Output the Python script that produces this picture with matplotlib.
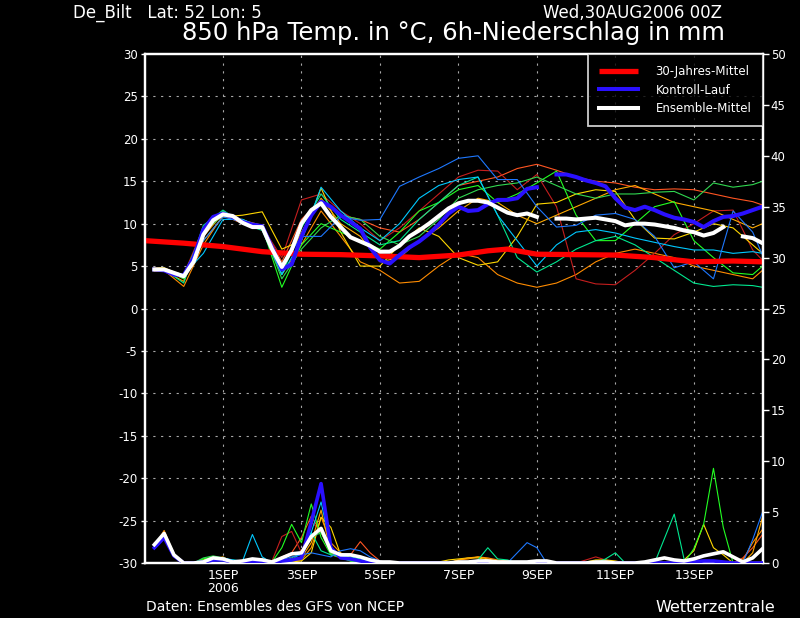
import numpy as np
import matplotlib
matplotlib.use('Agg')
import matplotlib.pyplot as plt

plt.rcParams['axes.unicode_minus'] = False
plt.rcParams['font.family'] = ['DejaVu Sans']

nan = np.nan
# forecast hours (6-hourly) for mean / control run
hours6 = list(range(6, 379, 6))
# forecast hours for the individual members (read at 12-hourly resolution)
hours_m = [6] + list(range(12, 373, 12)) + [378]
# climatology
clim_hours = [0, 24, 48, 72, 96, 120, 144, 168, 192, 210, 222, 240, 264, 288, 312, 336, 360, 378]
clim_temp = [8.0, 7.7, 7.3, 6.7, 6.4, 6.35, 6.2, 6.0, 6.3, 6.8, 7.0, 6.4, 6.35, 6.3, 6.0, 5.5, 5.6, 5.5]

mean_temp = [4.6, 4.6, 4.2, 3.8, 5.5, 8.7, 10.4, 11.1, 10.9, 10.1, 9.6, 9.6,
             7.0, 4.9, 6.9, 10.0, 11.6, 12.4, 10.8, 9.6, 8.4, 7.9, 7.4, 6.7,
             6.7, 7.4, 8.5, 9.2, 10.0, 10.9, 11.8, 12.4, 12.7, 12.7, 12.5, 11.9,
             11.3, 11.0, 11.2, 10.8, nan, 10.6, 10.6, 10.5, 10.6, 10.7, 10.5, 10.3,
             9.8, 10.0, 10.0, 9.9, 9.7, 9.5, 9.2, 9.0, 8.6, 8.9, 9.6, nan,
             8.5, 8.3, 7.7]
ctrl_temp = [4.6, 4.5, 4.0, 3.9, 6.0, 9.3, 10.8, 11.2, 10.8, 10.2, 9.9, 9.7,
             7.2, 4.6, 5.2, 8.5, 11.0, 12.6, 12.0, 11.0, 10.2, 9.4, 7.2, 5.7,
             5.3, 6.3, 7.2, 7.9, 8.8, 9.9, 11.2, 12.0, 11.5, 11.6, 12.3, 12.8,
             12.8, 13.0, 14.1, 14.3, nan, 15.8, 15.8, 15.5, 15.1, 14.8, 14.4, 13.0,
             11.9, 11.6, 12.0, 11.6, 11.1, 10.7, 10.5, 10.2, 9.6, 10.3, 10.8, 10.9,
             11.2, 11.6, 12.0]
mean_prcp = [1.8, 2.9, 0.8, 0, 0, 0.1, 0.5, 0.4, 0.1, 0.2, 0.4, 0.3,
             0.1, 0.5, 0.9, 1.0, 2.6, 3.4, 1.2, 0.8, 0.8, 0.6, 0.3, 0.1,
             0.1, 0, 0, 0, 0, 0, 0, 0.1, 0.1, 0.2, 0.2, 0.1,
             0.1, 0.1, 0.1, 0.2, 0.2, 0, 0, 0, 0, 0.1, 0.1, 0,
             0, 0, 0.1, 0.3, 0.5, 0.3, 0.2, 0.4, 0.7, 0.9, 1.1, 0.6,
             0.1, 0.5, 1.4]
ctrl_prcp = [1.5, 2.5, 0.7, 0, 0, 0.1, 0.3, 0.3, 0.1, 0, 0.1, 0.1,
             0, 0.2, 0.3, 0.5, 4.0, 7.8, 1.5, 0.5, 0.4, 0.2, 0, 0,
             0, 0, 0, 0, 0, 0, 0, 0, 0, 0, 0, 0,
             0, 0, 0, 0, 0, 0, 0, 0, 0, 0, 0, 0,
             0, 0, 0, 0, 0, 0, 0, 0.1, 0.2, 0.2, 0.1, 0,
             0, 0, 0]

member_colors = ['#ff8c00', '#ff5522', '#c41e1e', '#ffd700', '#ffaa00',
                 '#22ff22', '#30d850', '#00e890', '#00c8ff', '#1e78ff']

t_orange = [4.5, 4.5, 2.6, 7.5, 11.0, 10.0, 9.3, 4.0, 7.5, 11.5, 8.5, 5.5, 4.5, 3.0, 3.2, 5.0, 6.5,
            6.0, 4.0, 3.0, 2.5, 3.0, 4.0, 5.5, 6.5, 7.0, 6.5, 6.0, 5.0, 4.5, 4.0, 3.5, 4.5]
t_orangered = [4.6, 4.6, 3.5, 9.0, 11.3, 10.0, 9.8, 5.5, 10.5, 12.8, 11.0, 10.5, 9.5, 9.0, 10.5, 12.5, 14.5,
               15.0, 15.5, 16.5, 17.0, 16.3, 15.5, 15.0, 14.8, 14.3, 14.0, 14.1, 14.0, 13.5, 13.0, 12.6, 12.2]
t_firebrick = [4.5, 4.5, 4.0, 9.5, 11.0, 10.3, 9.6, 6.0, 12.8, 13.5, 11.5, 10.0, 8.0, 9.5, 11.5, 13.5, 15.5,
               16.3, 16.2, 14.0, 15.8, 12.0, 3.5, 2.9, 2.8, 4.5, 6.5, 8.7, 10.0, 11.5, 11.6, 6.9, 5.7]
t_gold = [4.8, 4.8, 3.8, 8.0, 10.8, 11.0, 11.4, 7.0, 8.0, 14.2, 9.0, 5.0, 5.0, 7.5, 9.5, 8.5, 6.0,
          5.1, 5.5, 8.5, 12.3, 12.5, 13.5, 14.0, 13.8, 10.5, 8.3, 8.2, 9.0, 10.0, 9.5, 7.5, 6.5]
t_amber = [4.4, 4.4, 3.2, 8.5, 11.2, 10.4, 9.8, 4.5, 9.0, 13.0, 10.0, 8.5, 5.5, 6.0, 8.0, 9.5, 11.5,
           13.0, 12.5, 11.0, 10.0, 11.0, 12.0, 13.0, 14.0, 14.5, 13.5, 12.5, 12.0, 11.5, 10.5, 9.5, 10.0]
t_lime = [4.7, 4.7, 3.5, 9.5, 11.5, 10.2, 9.6, 2.5, 7.5, 10.0, 9.0, 8.0, 7.0, 9.0, 11.5, 12.5, 14.0,
          14.5, 12.5, 13.5, 14.8, 16.2, 11.0, 8.0, 8.0, 10.0, 12.0, 12.6, 8.0, 6.0, 4.2, 4.0, 5.0]
t_green = [4.5, 4.5, 4.0, 9.0, 11.0, 10.5, 9.5, 3.5, 7.0, 9.5, 11.0, 10.5, 8.5, 7.5, 8.5, 10.5, 13.0,
           14.0, 14.5, 14.8, 15.5, 14.5, 13.5, 13.0, 13.5, 13.5, 13.7, 13.8, 12.8, 14.8, 14.3, 14.6, 15.0]
t_spring = [4.6, 4.6, 3.0, 9.8, 11.6, 10.0, 9.2, 4.0, 9.5, 13.5, 10.5, 9.0, 7.5, 8.0, 10.5, 12.5, 14.5,
            15.5, 11.0, 6.0, 4.3, 5.5, 7.0, 8.0, 8.5, 7.5, 6.0, 4.5, 3.0, 2.6, 2.8, 2.7, 2.5]
t_cyan = [4.5, 4.5, 4.0, 6.5, 10.5, 10.5, 9.5, 4.0, 8.0, 14.3, 11.5, 9.5, 8.0, 10.0, 13.0, 14.5, 15.2,
          15.5, 11.0, 8.0, 5.0, 7.5, 9.0, 9.3, 8.9, 8.3, 7.8, 7.3, 6.9, 6.9, 6.5, 6.7, 6.5]
t_dodger = [4.5, 4.5, 3.8, 8.0, 10.8, 10.2, 9.8, 5.0, 8.5, 8.5, 10.8, 10.4, 10.5, 14.4, 15.5, 16.5, 17.7,
            18.0, 15.2, 15.2, 12.0, 9.6, 9.8, 11.0, 11.2, 10.5, 8.5, 4.8, 5.5, 3.5, 11.5, 9.0, 6.3]

p_orange = [1.6, 3.2, 0.9, 0, 0, 0.2, 0.5, 0.3, 0, 0.1, 0.3, 0.2,
            0, 0, 0.2, 0.3, 1.5, 4.5, 2.0, 1.0, 0.5, 0.3, 0.1, 0,
            0, 0, 0, 0, 0, 0, 0, 0.3, 0.4, 0.6, 0.5, 0.3,
            0.2, 0, 0, 0, 0, 0, 0, 0, 0, 0, 0, 0,
            0, 0, 0, 0, 0, 0, 0, 0, 0, 0, 0, 0,
            0.3, 2.0, 3.3]
p_orangered = [1.8, 2.6, 0.8, 0, 0, 0, 0.3, 0.5, 0.2, 0, 0.2, 0.3,
               0, 0.6, 1.0, 2.5, 4.6, 3.0, 1.0, 0.8, 0.8, 2.1, 1.0, 0.2,
               0, 0, 0, 0, 0, 0, 0, 0, 0, 0, 0, 0,
               0, 0, 0, 0, 0, 0, 0, 0, 0, 0, 0, 0,
               0, 0, 0, 0, 0, 0, 0, 0, 0, 0, 0, 0,
               0.5, 1.5, 2.8]
p_firebrick = [2.0, 2.5, 0.6, 0, 0, 0, 0.2, 0.4, 0, 0, 0, 0.3,
               0.2, 2.6, 3.1, 1.0, 4.0, 3.2, 0.8, 0.5, 0.3, 0.2, 0, 0,
               0, 0, 0, 0, 0, 0, 0, 0, 0, 0, 0, 0,
               0, 0, 0, 0, 0, 0, 0, 0, 0.3, 0.6, 0.3, 0,
               0, 0, 0, 0, 0, 0, 0, 0, 0, 0, 0, 0,
               0, 0, 0]
p_gold = [1.7, 3.0, 0.9, 0, 0, 0.3, 0.6, 0.3, 0, 0.1, 0.2, 0.4,
          0.1, 0, 0.1, 0.2, 1.0, 4.5, 3.5, 0.8, 0.3, 0.1, 0, 0,
          0, 0, 0, 0, 0, 0.1, 0.3, 0.4, 0.5, 0.5, 0.3, 0.1,
          0, 0, 0, 0, 0, 0, 0, 0, 0.1, 0.3, 0.3, 0.2,
          0, 0, 0, 0, 0, 0, 0.3, 1.2, 3.8, 1.5, 0.8, 0,
          0, 0, 0]
p_amber = [1.5, 2.8, 0.7, 0, 0, 0.1, 0.4, 0.6, 0.1, 0, 0.1, 0.2,
           0, 0.2, 0.3, 0.5, 2.0, 5.2, 1.0, 0.5, 0.4, 0.3, 0.2, 0.1,
           0, 0, 0, 0, 0, 0, 0, 0.3, 0.5, 0.6, 0.4, 0.2,
           0, 0, 0, 0, 0, 0, 0, 0, 0, 0, 0, 0,
           0, 0, 0, 0, 0, 0, 0, 0, 0, 0, 0, 0,
           0, 1.0, 4.5]
p_lime = [1.7, 2.7, 0.8, 0, 0, 0.4, 0.6, 0.4, 0, 0, 0.3, 0.2,
          0.1, 1.5, 3.8, 2.0, 5.8, 2.5, 0.8, 0.6, 0.2, 0, 0, 0,
          0, 0, 0, 0, 0, 0, 0, 0, 0, 0, 0, 0,
          0, 0, 0, 0, 0, 0, 0, 0, 0, 0, 0, 0,
          0, 0, 0, 0, 0, 0, 0, 1.4, 3.8, 9.3, 3.5, 0,
          0, 0, 0]
p_green = [1.9, 2.9, 0.8, 0, 0, 0.5, 0.7, 0.5, 0, 0, 0.2, 0.2,
           0, 0, 0.5, 1.0, 2.5, 3.0, 1.0, 0.5, 0.2, 0, 0, 0,
           0, 0, 0, 0, 0, 0, 0, 0, 0, 0, 0, 0,
           0, 0, 0, 0, 0, 0, 0, 0, 0, 0, 0, 0,
           0, 0, 0, 0, 0, 0, 0, 0, 0, 0, 0, 0,
           0, 0, 0]
p_spring = [1.6, 2.9, 0.8, 0, 0, 0.2, 0.3, 0.2, 0.3, 0.1, 0, 0,
            0, 0, 0.3, 1.0, 3.0, 1.2, 0.8, 0.6, 0.6, 0.4, 0.2, 0,
            0, 0, 0, 0, 0, 0, 0, 0, 0, 0.3, 1.5, 0.4,
            0.3, 0, 0, 0, 0, 0, 0, 0, 0, 0, 0.4, 1.0,
            0, 0, 0, 0, 2.4, 4.8, 0.4, 0, 0, 0, 0, 0,
            0, 0, 0]
p_cyan = [1.4, 2.4, 0.7, 0, 0, 0.1, 0.4, 0.5, 0.3, 0.2, 2.8, 0.6,
          0, 0, 0.2, 0.5, 3.0, 6.0, 1.5, 0.7, 0.5, 0.3, 0.2, 0,
          0, 0, 0, 0, 0, 0, 0, 0, 0, 0, 0, 0,
          0, 0, 0, 0, 0, 0, 0, 0, 0, 0, 0, 0,
          0, 0, 0, 0, 0, 0, 0, 0, 0, 0, 0, 0,
          0, 0, 0]
p_dodger = [1.5, 2.6, 0.9, 0, 0, 0, 0.2, 0.3, 0, 0, 0, 0,
            0, 0.3, 0.6, 0.8, 1.0, 0.8, 0.6, 1.2, 1.4, 1.2, 0.6, 0.2,
            0, 0, 0, 0, 0, 0, 0, 0, 0, 0, 0, 0,
            0, 1.0, 2.0, 1.5, 0, 0, 0, 0, 0, 0, 0, 0,
            0, 0, 0, 0, 0, 0, 0, 0, 0, 0, 0, 0,
            0, 2.3, 5.0]

members_temp = [t_orange, t_orangered, t_firebrick, t_gold, t_amber,
                t_lime, t_green, t_spring, t_cyan, t_dodger]
members_prcp = [p_orange, p_orangered, p_firebrick, p_gold, p_amber,
                p_lime, p_green, p_spring, p_cyan, p_dodger]

xtick_hours = [48, 96, 144, 192, 240, 288, 336]
xtick_labels = ['1SEP\n2006', '3SEP', '5SEP', '7SEP', '9SEP', '11SEP', '13SEP']
legend_labels = ['30-Jahres-Mittel', 'Kontroll-Lauf', 'Ensemble-Mittel']

W, H = 800, 618
fig = plt.figure(figsize=(W / 100, H / 100), dpi=100, facecolor='black')
L, R, T, B = 144.5, 762.5, 54, 563
ax = fig.add_axes([L / W, 1 - B / H, (R - L) / W, (B - T) / H])
ax.set_facecolor('black')
ax2 = ax.twinx()

ax.set_xlim(0, 378)
ax.set_ylim(-30, 30)
ax2.set_ylim(0, 50)

# temperature members
for vals, c in zip(members_temp, member_colors):
    ax.plot(hours_m, vals, color=c, lw=0.8, zorder=2)
red_line, = ax.plot(clim_hours, clim_temp, color='#ff0000', lw=3.8, zorder=4,
                    solid_capstyle='butt')
blue_line, = ax.plot(hours6, ctrl_temp, color='#2a10ff', lw=2.9, zorder=5)
white_line, = ax.plot(hours6, mean_temp, color='white', lw=2.9, zorder=6)

# precipitation
for vals, c in zip(members_prcp, member_colors):
    ax2.plot(hours6, vals, color=c, lw=0.8, zorder=2)
ax2.plot(hours6, ctrl_prcp, color='#2a10ff', lw=2.6, zorder=5)
ax2.plot(hours6, mean_prcp, color='white', lw=2.6, zorder=6)

# grid
for yv in range(-25, 30, 5):
    ax.axhline(yv, color='#a8a8a8', lw=0.8, ls=(0, (2, 5)), zorder=1)
for xv in xtick_hours:
    ax.axvline(xv, color='#a8a8a8', lw=0.8, ls=(0, (2, 5)), zorder=1)

for a in (ax, ax2):
    for s in a.spines.values():
        s.set_color('white')
        s.set_linewidth(1.6)

ax.set_yticks(range(-30, 31, 5))
ax2.set_yticks(range(0, 51, 5))
ax.tick_params(axis='y', colors='white', labelsize=8.5, length=3, width=1, pad=2)
ax2.tick_params(axis='y', colors='white', labelsize=8.5, length=4, width=1, pad=2)
ax.set_xticks(xtick_hours)
ax.set_xticklabels(xtick_labels)
ax.tick_params(axis='x', colors='white', labelsize=9, length=0, pad=4)
for lab in ax.get_xticklabels():
    lab.set_linespacing(1.0)

leg = ax2.legend([red_line, blue_line, white_line], legend_labels,
                 loc='upper right', bbox_to_anchor=(1.0, 1.0), borderaxespad=0,
                 frameon=True, fancybox=False, facecolor='black', edgecolor='white',
                 fontsize=8.5, labelcolor='white', handlelength=3.3,
                 handletextpad=1.45, borderpad=0.95, labelspacing=0.45)
leg.get_frame().set_linewidth(1.3)
leg.set_zorder(20)

fig.text(73 / W, 1 - 13 / H, 'De_Bilt   Lat: 52 Lon: 5', color='white',
         fontsize=12, va='center', ha='left')
fig.text(722 / W, 1 - 13 / H, 'Wed,30AUG2006 00Z', color='white',
         fontsize=12, va='center', ha='right')
fig.text(453 / W, 1 - 33 / H, '850 hPa Temp. in \u00b0C, 6h-Niederschlag in mm',
         color='white', fontsize=17.5, va='center', ha='center')
fig.text(146 / W, 1 - 607 / H, 'Daten: Ensembles des GFS von NCEP', color='white',
         fontsize=10, va='center', ha='left')
fig.text(775 / W, 1 - 607 / H, 'Wetterzentrale', color='white',
         fontsize=11.5, va='center', ha='right')

fig.savefig('out.png', dpi=100, facecolor='black')
